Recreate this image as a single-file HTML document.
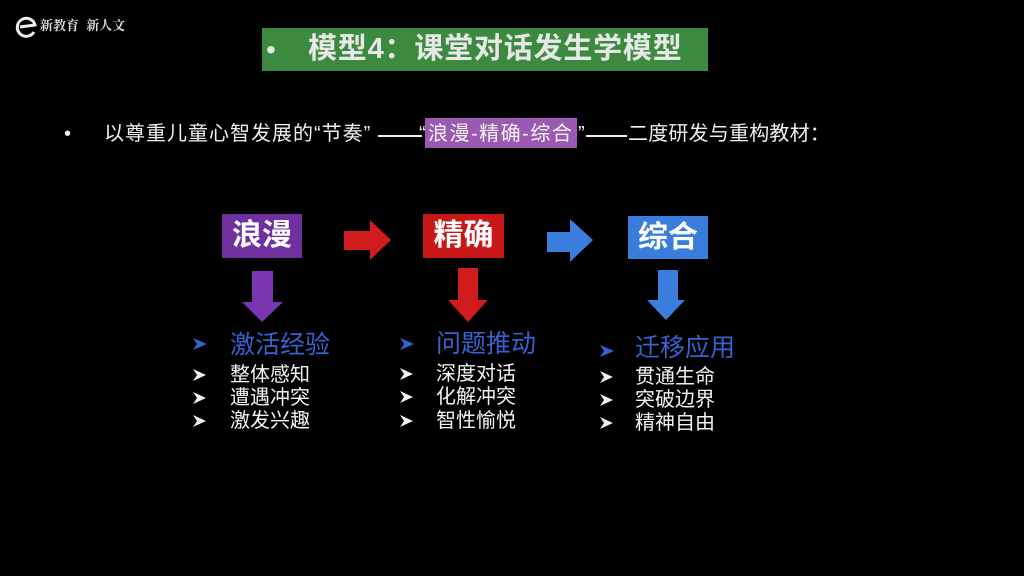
<!DOCTYPE html>
<html>
<head>
<meta charset="utf-8">
<style>
  html,body{margin:0;padding:0;background:#000;}
  body{width:1024px;height:576px;position:relative;overflow:hidden;
       font-family:"Liberation Sans","Noto Sans CJK SC",sans-serif;}
  .abs{position:absolute;white-space:nowrap;line-height:1;}
  .box{position:absolute;display:flex;align-items:center;justify-content:center;
       color:#fff;font-weight:bold;font-size:30px;line-height:1;}
  .item{position:absolute;white-space:nowrap;line-height:1;color:#f2f2f2;font-size:20px;}
  .head{position:absolute;white-space:nowrap;line-height:1;color:#3563cf;font-size:25px;}
  .dash{position:absolute;height:1.5px;background:#eee;}
</style>
</head>
<body>

<!-- logo -->
<svg class="abs" style="left:14px;top:15px" width="24" height="24" viewBox="0 0 24 24">
  <path d="M20 17 A9 9 0 1 1 21 10 L6 12" fill="none" stroke="#eee" stroke-width="3"/>
</svg>
<div class="abs" style="left:40px;top:19px;font-size:13px;color:#ddd;font-weight:bold;font-family:'Liberation Serif','Noto Serif CJK SC',serif;">新教育 <span style="margin-left:4px">新人文</span></div>

<!-- title box -->
<div class="abs" style="left:262px;top:28px;width:446px;height:43px;background:#3c8a3f;"></div>
<div class="abs" style="left:266px;top:36px;font-size:28px;color:#e6e6e6;">•</div>
<div class="abs" style="left:308px;top:35px;font-size:29px;font-weight:bold;color:#e8e8e8;letter-spacing:0.8px;">模型4：课堂对话发生学模型</div>

<!-- subtitle -->
<div class="abs" style="left:64px;top:124px;font-size:20px;color:#eee;">•</div>
<div class="abs" style="left:104px;top:124px;font-size:20px;color:#f0f0f0;letter-spacing:1px;">以尊重儿童心智发展的“节奏”</div>
<div class="dash" style="left:378px;top:135px;width:44px;"></div>
<div class="abs" style="left:419px;top:124px;font-size:20px;color:#f0f0f0;">“</div>
<div class="abs" style="left:425px;top:118px;width:152px;height:30px;background:#9b5ab2;"></div>
<div class="abs" style="left:428px;top:124px;font-size:20px;color:#f4f4f4;letter-spacing:1.5px;">浪漫-精确-综合</div>
<div class="abs" style="left:578px;top:124px;font-size:20px;color:#f0f0f0;">”</div>
<div class="dash" style="left:586px;top:135px;width:41px;"></div>
<div class="abs" style="left:628px;top:124px;font-size:20px;color:#f0f0f0;letter-spacing:0.2px;">二度研发与重构教材：</div>

<!-- top boxes -->
<div class="box" style="left:222px;top:214px;width:80px;height:44px;background:#7030a0;">浪漫</div>
<div class="box" style="left:423px;top:214px;width:81px;height:44px;background:#c81818;">精确</div>
<div class="box" style="left:628px;top:216px;width:80px;height:43px;background:#3b7ddd;">综合</div>

<!-- arrows -->
<svg class="abs" style="left:0;top:0" width="1024" height="576">
  <!-- right arrows -->
  <polygon points="344,231 370,231 370,220 391,240 370,260 370,250 344,250" fill="#d01c1c"/>
  <polygon points="547,232 570,232 570,219 593,240 570,262 570,252 547,252" fill="#3b7ddd"/>
  <!-- down arrows -->
  <polygon points="252,271 273,271 273,302 283,302 262,322 242,302 252,302" fill="#7a35b0"/>
  <polygon points="458,268 478,268 478,300 488,300 468,322 448,300 458,300" fill="#d01c1c"/>
  <polygon points="658,270 678,270 678,300 685,300 666,320 647,300 658,300" fill="#3b7ddd"/>
</svg>

<!-- list arrow glyphs -->
<svg class="abs" style="left:0;top:0" width="1024" height="576">
  <defs>
    <g id="a">
      <polygon points="0,0 13,6 0,12 4,6" />
    </g>
  </defs>
  <!-- column 1 -->
  <g fill="#3563cf"><polygon points="193,338 207,344 193,350 197,344"/></g>
  <g fill="#f0f0f0">
    <polygon points="193,369 206,375 193,381 197,375"/>
    <polygon points="193,392 206,398 193,404 197,398"/>
    <polygon points="193,415 206,421 193,427 197,421"/>
  </g>
  <!-- column 2 -->
  <g fill="#3563cf"><polygon points="400,338 414,344 400,350 404,344"/></g>
  <g fill="#f0f0f0">
    <polygon points="400,368 413,374 400,380 404,374"/>
    <polygon points="400,391 413,397 400,403 404,397"/>
    <polygon points="400,415 413,421 400,427 404,421"/>
  </g>
  <!-- column 3 -->
  <g fill="#3563cf"><polygon points="600,345 614,351 600,357 604,351"/></g>
  <g fill="#f0f0f0">
    <polygon points="600,371 613,377 600,383 604,377"/>
    <polygon points="600,394 613,400 600,406 604,400"/>
    <polygon points="600,417 613,423 600,429 604,423"/>
  </g>
</svg>

<!-- column 1 text -->
<div class="head" style="left:230px;top:333px;">激活经验</div>
<div class="item" style="left:230px;top:365px;">整体感知</div>
<div class="item" style="left:230px;top:388px;">遭遇冲突</div>
<div class="item" style="left:230px;top:411px;">激发兴趣</div>

<!-- column 2 text -->
<div class="head" style="left:436px;top:332px;">问题推动</div>
<div class="item" style="left:436px;top:364px;">深度对话</div>
<div class="item" style="left:436px;top:387px;">化解冲突</div>
<div class="item" style="left:436px;top:411px;">智性愉悦</div>

<!-- column 3 text -->
<div class="head" style="left:635px;top:336px;">迁移应用</div>
<div class="item" style="left:635px;top:367px;">贯通生命</div>
<div class="item" style="left:635px;top:390px;">突破边界</div>
<div class="item" style="left:635px;top:413px;">精神自由</div>

</body>
</html>
